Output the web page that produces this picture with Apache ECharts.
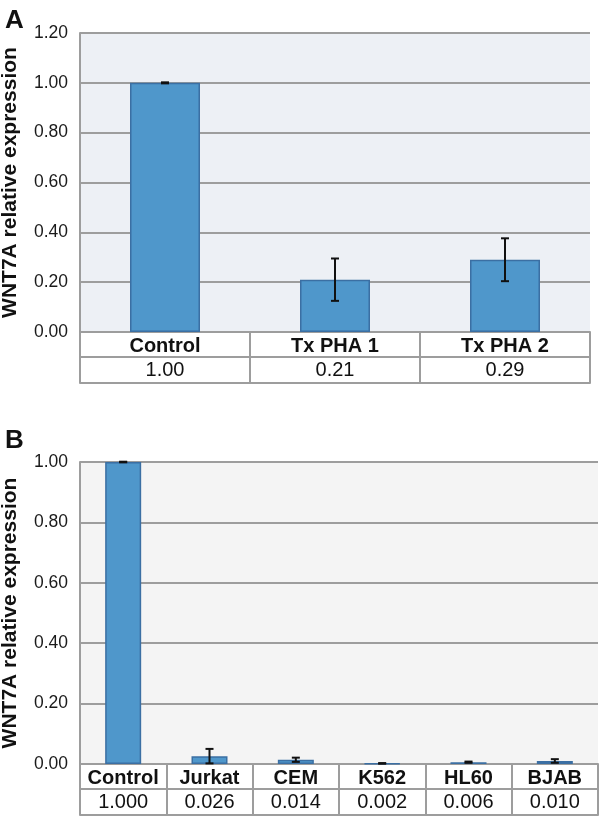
<!DOCTYPE html>
<html>
<head>
<meta charset="utf-8">
<script src="https://cdn.jsdelivr.net/npm/echarts@6/dist/echarts.min.js"></script>
<style>
html,body{margin:0;padding:0;background:#fff;}
#c{width:600px;height:818px;}
</style>
</head>
<body>
<div id="c"></div>
<script>
// Panel A data
const catsA = ['Control', 'Tx PHA 1', 'Tx PHA 2'];
const valsA = [1.00, 0.21, 0.29];
const errA = [0.002, 0.085, 0.086];
const ticksA = { min: 0, max: 1.2, interval: 0.2 };

// Panel B data
const catsB = ['Control', 'Jurkat', 'CEM', 'K562', 'HL60', 'BJAB'];
const valsB = [1.000, 0.026, 0.014, 0.002, 0.006, 0.010];
const errB = [0.001, 0.024, 0.007, 0.001, 0.002, 0.006];
const ticksB = { min: 0, max: 1.0, interval: 0.2 };

const FONT = '"Liberation Sans", Arial, sans-serif';
const GRAY = '#9d9d9d';
const BAR = '#4f97cb';
const BARB = '#3b6fa3';

function xAxesFor(grid, cats, vals, digits) {
  return [
    {
      type: 'category', gridIndex: grid, data: cats, position: 'bottom',
      axisLine: { show: true, lineStyle: { color: GRAY, width: 2 } },
      axisTick: { show: true, interval: 0, length: 51, lineStyle: { color: GRAY, width: 2 } },
      axisLabel: { interval: 0, margin: 4, fontFamily: FONT, fontSize: 20, fontWeight: 'bold', color: '#111' }
    },
    {
      type: 'category', gridIndex: grid, data: cats, position: 'bottom', offset: 25,
      axisLine: { show: true, lineStyle: { color: GRAY, width: 2 } },
      axisTick: { show: false },
      axisLabel: { interval: 0, margin: 3, fontFamily: FONT, fontSize: 20, color: '#111',
        formatter: (v, i) => vals[i].toFixed(digits) }
    },
    {
      type: 'category', gridIndex: grid, data: cats, position: 'bottom', offset: 51,
      axisLine: { show: true, lineStyle: { color: GRAY, width: 2 } },
      axisTick: { show: false }, axisLabel: { show: false }
    }
  ];
}

function yAxisFor(grid, t) {
  return {
    type: 'value', gridIndex: grid, min: t.min, max: t.max, interval: t.interval,
    name: 'WNT7A relative expression', nameLocation: 'middle', nameRotate: 90, nameGap: 59,
    nameTextStyle: { fontFamily: FONT, fontSize: 21, fontWeight: 'bold', color: '#111' },
    axisLine: { show: true, lineStyle: { color: GRAY, width: 2 } },
    axisTick: { show: false },
    axisLabel: { margin: 12, fontFamily: FONT, fontSize: 17.5, color: '#1a1a1a',
      formatter: v => v.toFixed(2) },
    splitLine: { show: true, lineStyle: { color: GRAY, width: 2 } }
  };
}

function errSeries(xi, yi, vals, errs) {
  return {
    type: 'custom', xAxisIndex: xi, yAxisIndex: yi, z: 10,
    data: vals.map((v, i) => [i, v, errs[i]]),
    renderItem: function (params, api) {
      const x = api.value(0), v = api.value(1), e = api.value(2);
      const hi = api.coord([x, v + e]);
      const lo = api.coord([x, Math.max(0, v - e)]);
      const w = 4;
      const st = { stroke: '#111', lineWidth: 2 };
      return { type: 'group', children: [
        { type: 'line', shape: { x1: hi[0], y1: hi[1], x2: lo[0], y2: lo[1] }, style: st },
        { type: 'line', shape: { x1: hi[0] - w, y1: hi[1], x2: hi[0] + w, y2: hi[1] }, style: st },
        { type: 'line', shape: { x1: lo[0] - w, y1: lo[1], x2: lo[0] + w, y2: lo[1] }, style: st }
      ]};
    }
  };
}

const chart = echarts.init(document.getElementById('c'), null, { renderer: 'canvas' });
chart.setOption({
  animation: false,
  backgroundColor: '#ffffff',
  title: [
    { text: 'A', left: 0, top: 3, textStyle: { fontFamily: FONT, fontSize: 26, fontWeight: 'bold', color: '#111' } },
    { text: 'B', left: 0, top: 423, textStyle: { fontFamily: FONT, fontSize: 26, fontWeight: 'bold', color: '#111' } }
  ],
  grid: [
    { left: 80, top: 33, width: 510, height: 299, show: true, backgroundColor: '#edf0f5', borderWidth: 0, outerBoundsMode: 'none', containLabel: false },
    { left: 80, top: 462, width: 518, height: 302, show: true, backgroundColor: '#f4f4f4', borderWidth: 0, outerBoundsMode: 'none', containLabel: false }
  ],
  xAxis: [].concat(xAxesFor(0, catsA, valsA, 2), xAxesFor(1, catsB, valsB, 3)),
  yAxis: [yAxisFor(0, ticksA), yAxisFor(1, ticksB)],
  series: [
    { type: 'bar', xAxisIndex: 0, yAxisIndex: 0, data: valsA, barWidth: 70,
      itemStyle: { color: BAR, borderColor: BARB, borderWidth: 1.5 } },
    errSeries(0, 0, valsA, errA),
    { type: 'bar', xAxisIndex: 3, yAxisIndex: 1, data: valsB, barWidth: 36,
      itemStyle: { color: BAR, borderColor: BARB, borderWidth: 1.5 } },
    errSeries(3, 1, valsB, errB)
  ]
});
</script>
</body>
</html>
